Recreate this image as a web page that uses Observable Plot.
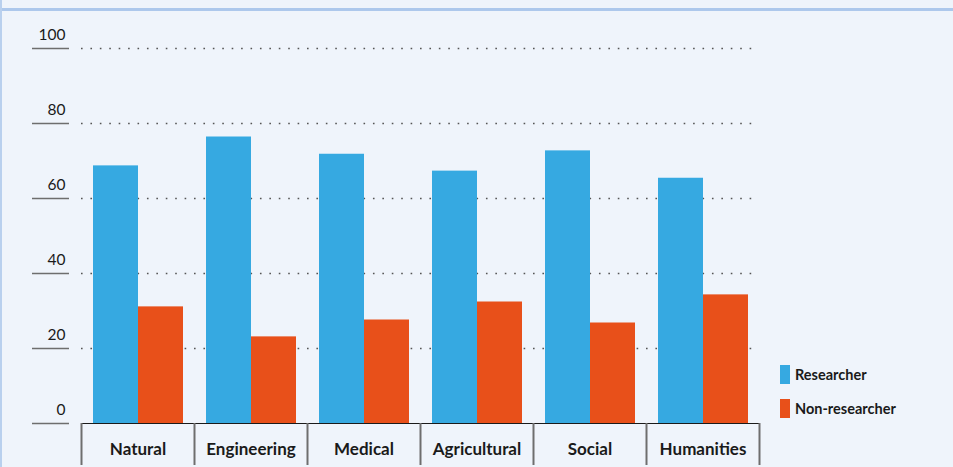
<!DOCTYPE html>
<html>
<head>
<meta charset="utf-8">
<script src="https://cdn.jsdelivr.net/npm/d3@7"></script>
<script src="https://cdn.jsdelivr.net/npm/@observablehq/plot@0.6"></script>
<style>
  html, body { margin: 0; padding: 0; }
  body { width: 953px; height: 467px; background: #eff4fb; position: relative; overflow: hidden; font-family: Lato, "Open Sans", sans-serif; }
  #topline { position: absolute; left: 0; top: 8px; width: 953px; height: 3px; background: #adc8ec; }
  #leftline { position: absolute; left: 0; top: 0; width: 2px; height: 467px; background: #b9d0ee; }
  #chart { position: absolute; left: 0; top: 0; }
  #legend { position: absolute; left: 780px; top: 365px; }
  .item { display: flex; align-items: center; height: 19px; margin-bottom: 15px; font-weight: bold; font-size: 14.5px; color: #1a1a1a; }
  .sw { width: 10px; height: 19px; margin-right: 5px; }
</style>
</head>
<body>
<div id="topline"></div>
<div id="leftline"></div>
<div id="chart"></div>
<div id="legend"></div>
<script>
const categories = ["Natural", "Engineering", "Medical", "Agricultural", "Social", "Humanities"];
const series = ["Researcher", "Non-researcher"];
const researcher = [68.7, 76.4, 71.8, 67.3, 72.7, 65.4];
const nonResearcher = [31.1, 23.1, 27.6, 32.4, 26.8, 34.3];
const yTicks = [0, 20, 40, 60, 80, 100];
const colors = ["#36a9e1", "#e8501a"];

const data = [];
categories.forEach((c, i) => {
  data.push({category: c, series: series[0], value: researcher[i]});
  data.push({category: c, series: series[1], value: nonResearcher[i]});
});

const halfBand = (953 - 81 - 194) / categories.length / 2;

const chart = Plot.plot({
  width: 953,
  height: 467,
  marginLeft: 81,
  marginRight: 194,
  marginTop: 48,
  marginBottom: 44,
  style: {background: "transparent", overflow: "visible", fontFamily: "Lato, 'Open Sans', sans-serif", color: "#1a1a1a"},
  fx: {domain: categories, padding: 0},
  x: {domain: series, paddingInner: 0, paddingOuter: 0.242, axis: null},
  y: {domain: [0, 100]},
  color: {domain: series, range: colors},
  marks: [
    Plot.ruleY(yTicks.filter(d => d > 0), {stroke: "#555", strokeWidth: 1.6, strokeDasharray: "1.6 7.82"}),
    Plot.barY(data, {fx: "category", x: "series", y: "value", fill: "series"}),
    Plot.ruleY([0], {stroke: "#1a1a1a", strokeWidth: 1.2}),
    Plot.axisY({ticks: yTicks, tickSize: 37, dx: -12, tickFormat: () => "", stroke: "#6e6e6e", strokeWidth: 1.6, label: null}),
    Plot.axisY({ticks: yTicks, tickSize: 0, tickPadding: 16, dy: -13, fontSize: 15.5, fill: "#1a1a1a", label: null}),
    Plot.axisFx({anchor: "bottom", tickSize: 0, tickPadding: 19, fontSize: 17, fontWeight: "bold", fill: "#1a1a1a", label: null}),
    Plot.axisFx({anchor: "bottom", tickSize: 42, dx: -halfBand, tickFormat: () => "", stroke: "#6e6e6e", strokeWidth: 2, label: null}),
    Plot.axisFx({anchor: "bottom", ticks: [categories[categories.length - 1]], tickSize: 42, dx: halfBand, tickFormat: () => "", stroke: "#6e6e6e", strokeWidth: 2, label: null})
  ]
});
document.getElementById("chart").appendChild(chart);

const legend = document.getElementById("legend");
series.forEach((s, i) => {
  const item = document.createElement("div");
  item.className = "item";
  const sw = document.createElement("div");
  sw.className = "sw";
  sw.style.background = colors[i];
  const t = document.createElement("span");
  t.textContent = s;
  item.appendChild(sw);
  item.appendChild(t);
  legend.appendChild(item);
});
</script>
</body>
</html>
